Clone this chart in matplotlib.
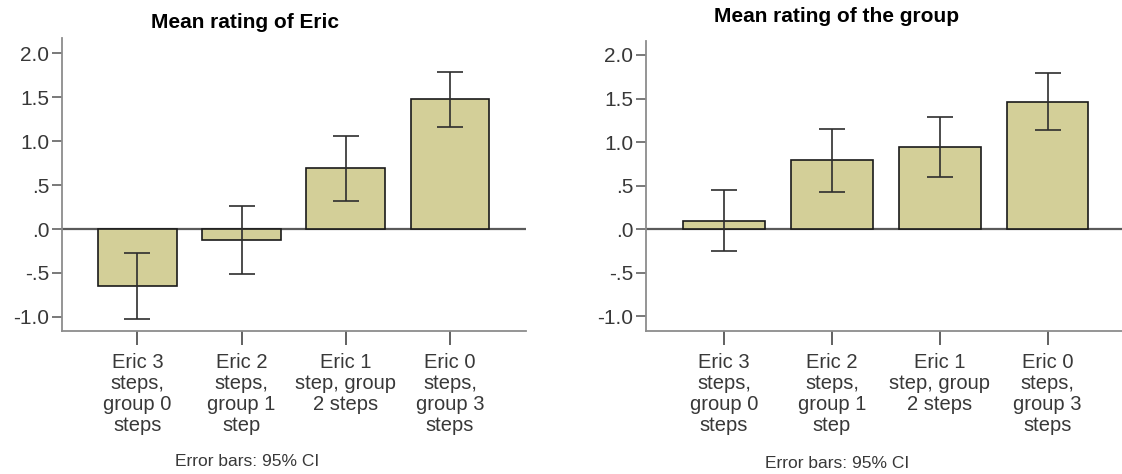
import matplotlib
matplotlib.use("Agg")
import matplotlib.pyplot as plt

plt.rcParams["font.family"] = ["Liberation Sans", "DejaVu Sans"]

categories = [
    "Eric 3\nsteps,\ngroup 0\nsteps",
    "Eric 2\nsteps,\ngroup 1\nstep",
    "Eric 1\nstep, group\n2 steps",
    "Eric 0\nsteps,\ngroup 3\nsteps",
]
y_ticks = [-1.0, -0.5, 0.0, 0.5, 1.0, 1.5, 2.0]
y_tick_labels = ["-1.0", "-.5", ".0", ".5", "1.0", "1.5", "2.0"]

# mean rating of Eric, with 95% CI bounds
eric_mean = [-0.648, -0.125, 0.69, 1.476]
eric_lo = [-1.02, -0.51, 0.318, 1.157]
eric_hi = [-0.277, 0.257, 1.062, 1.783]

# mean rating of the group, with 95% CI bounds
group_mean = [0.099, 0.79, 0.945, 1.464]
group_lo = [-0.249, 0.428, 0.597, 1.136]
group_hi = [0.451, 1.155, 1.293, 1.793]

BAR_COLOR = "#d3cf98"
AXIS_GRAY = "#8c8c8c"
TEXT_GRAY = "#383838"

fig = plt.figure(figsize=(11.22, 4.74), dpi=100)
ax_left = fig.add_axes([0.0550, 0.3017, 0.4135, 0.6181])
ax_right = fig.add_axes([0.5755, 0.3017, 0.4280, 0.6118])


def draw_panel(ax, means, lo, hi, ylim):
    x = list(range(len(means)))
    yerr = [[m - l for m, l in zip(means, lo)], [h - m for m, h in zip(means, hi)]]
    ax.axhline(0, color="#5a5a5a", linewidth=1.6, zorder=1)
    ax.bar(x, means, width=0.757, color=BAR_COLOR, edgecolor="#1a1a1a",
           linewidth=1.2, zorder=2)
    ax.errorbar(x, means, yerr=yerr, fmt="none", ecolor="#2e2e2e",
                elinewidth=1.2, capsize=9.4, capthick=1.2, zorder=3)
    ax.set_xlim(-0.726, 3.726)
    ax.set_ylim(*ylim)
    ax.set_yticks(y_ticks)
    ax.set_yticklabels(y_tick_labels)
    ax.set_xticks(x)
    ax.set_xticklabels(categories, linespacing=1.13)
    for side in ("top", "right"):
        ax.spines[side].set_visible(False)
    for side in ("left", "bottom"):
        ax.spines[side].set_color(AXIS_GRAY)
        ax.spines[side].set_linewidth(1.3)
    ax.tick_params(axis="y", direction="out", length=7, width=1.1,
                   color="#555555", labelsize=15, labelcolor=TEXT_GRAY, pad=2)
    ax.tick_params(axis="x", direction="out", length=10, width=1.3,
                   color="#555555", labelsize=14.5, labelcolor=TEXT_GRAY, pad=6)


draw_panel(ax_left, eric_mean, eric_lo, eric_hi, (-1.16, 2.173))
draw_panel(ax_right, group_mean, group_lo, group_hi, (-1.167, 2.16))

fig.text(245 / 1122, 1 - 22 / 474, "Mean rating of Eric", ha="center", va="center",
         fontsize=15, fontweight="bold", color="black")
fig.text(836.5 / 1122, 1 - 16 / 474, "Mean rating of the group", ha="center", va="center",
         fontsize=15, fontweight="bold", color="black")
fig.text(247 / 1122, 1 - 462 / 474, "Error bars: 95% CI", ha="center", va="center",
         fontsize=12.5, color=TEXT_GRAY)
fig.text(837 / 1122, 1 - 463 / 474, "Error bars: 95% CI", ha="center", va="center",
         fontsize=12.5, color=TEXT_GRAY)

fig.savefig("out.png", dpi=100)
